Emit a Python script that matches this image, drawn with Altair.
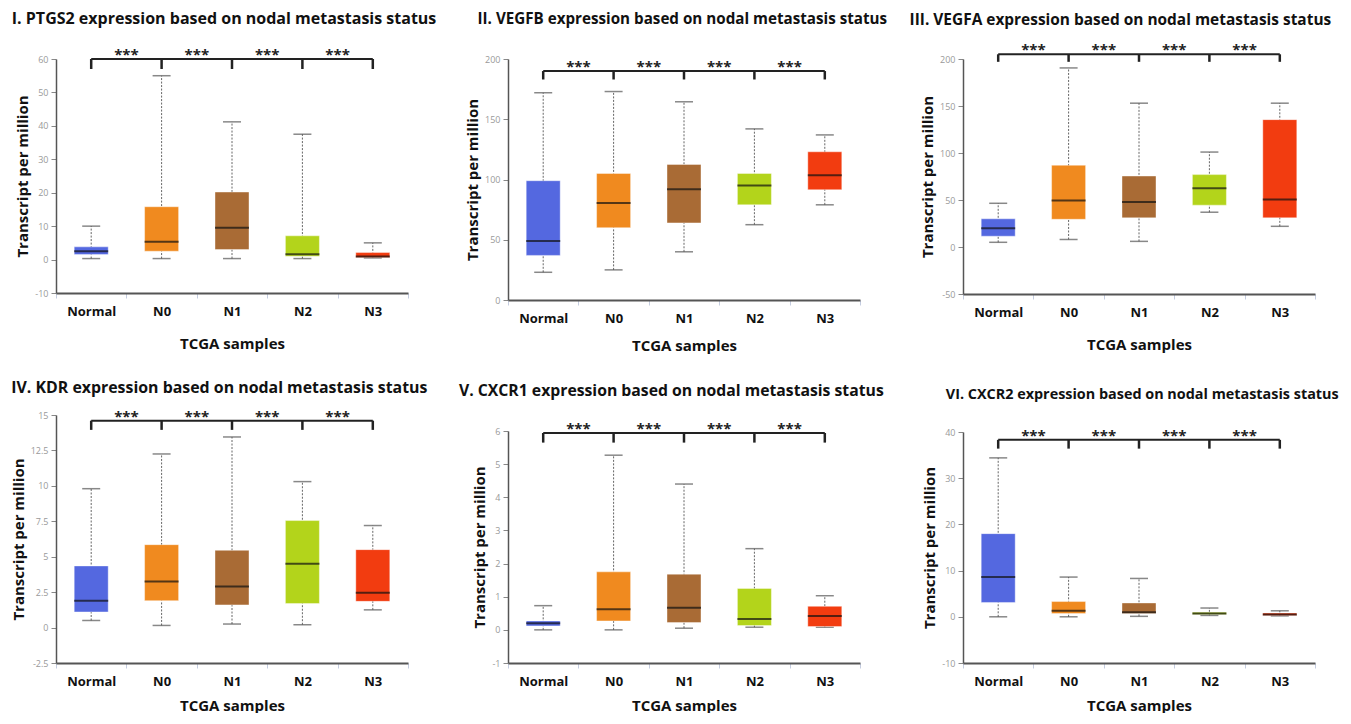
import altair as alt
import pandas as pd

groups = ["Normal", "N0", "N1", "N2", "N3"]
box_colors = ["#5468e0", "#f08a1f", "#a96b35", "#b3d41b", "#f23c10"]

titles = [
    "I. PTGS2 expression based on nodal metastasis status",
    "II. VEGFB expression based on nodal metastasis status",
    "III. VEGFA expression based on nodal metastasis status",
    "IV. KDR expression based on nodal metastasis status",
    "V. CXCR1 expression based on nodal metastasis status",
    "VI. CXCR2 expression based on nodal metastasis status",
]

# PTGS2
ptgs2_min = [0.3, 0.3, 0.3, 0.3, 0.5]
ptgs2_q1 = [1.5, 2.5, 3.0, 1.0, 0.6]
ptgs2_med = [2.5, 5.3, 9.5, 1.6, 0.9]
ptgs2_q3 = [3.8, 15.8, 20.2, 7.1, 2.1]
ptgs2_max = [10.0, 55.0, 41.2, 37.5, 5.0]
ptgs2_ticks = [-10, 0, 10, 20, 30, 40, 50, 60]

# VEGFB
vegfb_min = [23, 25, 40, 62.5, 79]
vegfb_q1 = [37, 60, 64, 79, 91.5]
vegfb_med = [49, 80.5, 92, 95, 103.5]
vegfb_q3 = [99, 105, 112.5, 105, 123]
vegfb_max = [172, 173, 164.5, 142, 137]
vegfb_ticks = [0, 50, 100, 150, 200]

# VEGFA
vegfa_min = [5, 8, 6, 37, 22]
vegfa_q1 = [11.5, 29.5, 31, 44.5, 31]
vegfa_med = [20, 49.5, 48, 62.5, 50.5]
vegfa_q3 = [30, 87, 75.5, 77, 135.5]
vegfa_max = [46.5, 190.5, 153, 101, 153]
vegfa_ticks = [-50, 0, 50, 100, 150, 200]

# KDR
kdr_min = [0.5, 0.15, 0.25, 0.2, 1.25]
kdr_q1 = [1.1, 1.9, 1.6, 1.7, 1.85]
kdr_med = [1.9, 3.25, 2.9, 4.5, 2.45]
kdr_q3 = [4.35, 5.85, 5.45, 7.55, 5.5]
kdr_max = [9.8, 12.25, 13.45, 10.3, 7.2]
kdr_ticks = [-2.5, 0, 2.5, 5, 7.5, 10, 12.5, 15]

# CXCR1
cxcr1_min = [0.0, 0.0, 0.05, 0.08, 0.08]
cxcr1_q1 = [0.12, 0.27, 0.22, 0.13, 0.1]
cxcr1_med = [0.2, 0.62, 0.67, 0.33, 0.42]
cxcr1_q3 = [0.27, 1.75, 1.68, 1.25, 0.71]
cxcr1_max = [0.73, 5.27, 4.4, 2.45, 1.03]
cxcr1_ticks = [-1, 0, 1, 2, 3, 4, 5, 6]

# CXCR2
cxcr2_min = [0.0, 0.0, 0.1, 0.3, 0.2]
cxcr2_q1 = [3.1, 0.7, 0.7, 0.5, 0.3]
cxcr2_med = [8.6, 1.3, 1.0, 0.7, 0.5]
cxcr2_q3 = [18.0, 3.3, 3.0, 1.0, 0.8]
cxcr2_max = [34.4, 8.6, 8.3, 1.9, 1.3]
cxcr2_ticks = [-10, 0, 10, 20, 30, 40]

# significance bracket level (top) and arm end, in data units
bracket_top = [60, 190, 205, 14.6, 5.94, 38.3]
bracket_end = [57, 183, 197, 13.95, 5.65, 36.4]
sig_label = "***"

PANEL_W = 352
FONT = "Open Sans"


def panel(title, mins, q1s, meds, q3s, maxs, ticks, btop, bend, height,
          title_size=16, title_dx=0, title_offset=20, xtitle_y=52):
    df = pd.DataFrame({
        "group": groups, "lo": mins, "q1": q1s, "med": meds, "q3": q3s, "hi": maxs,
        "top": [btop] * 5, "end": [bend] * 5,
    })
    stars = pd.DataFrame({"group": groups[:-1], "label": [sig_label] * 4, "top": [btop] * 4})

    xscale = alt.Scale(domain=groups, paddingInner=0, paddingOuter=0)
    xaxis = alt.Axis(
        title="TCGA samples", labelAngle=0, labelFontSize=13, labelFontWeight="bold",
        labelColor="#111", labelPadding=7, titleFontSize=15, titleFontWeight="bold",
        titleColor="#111", titleY=xtitle_y, titleBaseline="alphabetic",
        domainColor="#555", domainWidth=2,
        tickColor="#c5cde0", tickBand="extent", tickSize=5, tickWidth=1,
    )
    x = alt.X("group:N", sort=groups, scale=xscale, axis=xaxis)
    yscale = alt.Scale(domain=[ticks[0], ticks[-1]], nice=False, zero=False)
    yaxis = alt.Axis(
        title="Transcript per million", values=ticks, labelExpr="'' + datum.value", grid=False,
        labelFontSize=9, labelColor="#999", labelPadding=3, tickColor="#888", tickSize=5,
        domainColor="#555", domainWidth=1.5, titleFontSize=15, titleFontWeight="bold",
        titleColor="#111", titlePadding=4,
    )

    base = alt.Chart(df)
    whisker = base.mark_rule(color="#666", strokeWidth=1, strokeDash=[2, 1.5]).encode(
        x=x, y=alt.Y("lo:Q", scale=yscale, axis=yaxis), y2="hi:Q")
    cap_lo = base.mark_tick(color="#555", size=18, thickness=1.5).encode(
        x=x, y=alt.Y("lo:Q", scale=yscale, axis=yaxis))
    cap_hi = base.mark_tick(color="#555", size=18, thickness=1.5).encode(
        x=x, y=alt.Y("hi:Q", scale=yscale, axis=yaxis))
    box = base.mark_bar(size=34, stroke="#ffffff", strokeOpacity=0.5, strokeWidth=0.8).encode(
        x=x, y=alt.Y("q1:Q", scale=yscale, axis=yaxis), y2="q3:Q",
        color=alt.Color("group:N", scale=alt.Scale(domain=groups, range=box_colors), legend=None))
    median = base.mark_tick(color="#111", size=34, thickness=2).encode(
        x=x, y=alt.Y("med:Q", scale=yscale, axis=yaxis))
    bar_line = base.mark_line(color="#222", strokeWidth=2).encode(
        x=x, y=alt.Y("top:Q", scale=yscale, axis=yaxis))
    arms = base.mark_rule(color="#222", strokeWidth=2.5).encode(
        x=x, y=alt.Y("top:Q", scale=yscale, axis=yaxis), y2="end:Q")
    star_text = alt.Chart(stars).mark_text(
        fontSize=15, fontWeight="bold", color="#222", dx=PANEL_W / 10, dy=1,
        baseline="alphabetic", align="center").encode(
        x=x, y=alt.Y("top:Q", scale=yscale, axis=yaxis), text="label:N")

    return alt.layer(whisker, cap_lo, cap_hi, box, median, bar_line, arms, star_text).properties(
        width=PANEL_W, height=height,
        title=alt.TitleParams(text=title, anchor="start", frame="bounds", fontSize=title_size,
                              fontWeight="bold", color="#111", offset=title_offset, dx=title_dx),
    )


p1 = panel(titles[0], ptgs2_min, ptgs2_q1, ptgs2_med, ptgs2_q3, ptgs2_max, ptgs2_ticks,
           bracket_top[0], bracket_end[0], 234, 16, -4, 21, 55)
p2 = panel(titles[1], vegfb_min, vegfb_q1, vegfb_med, vegfb_q3, vegfb_max, vegfb_ticks,
           bracket_top[1], bracket_end[1], 241, 15.2, 12, 28, 50)
p3 = panel(titles[2], vegfa_min, vegfa_q1, vegfa_med, vegfa_q3, vegfa_max, vegfa_ticks,
           bracket_top[2], bracket_end[2], 235, 15.45, -11, 15, 55)
p4 = panel(titles[3], kdr_min, kdr_q1, kdr_med, kdr_q3, kdr_max, kdr_ticks,
           bracket_top[3], bracket_end[3], 248, 15.9, 0, 14, 47)
p5 = panel(titles[4], cxcr1_min, cxcr1_q1, cxcr1_med, cxcr1_q3, cxcr1_max, cxcr1_ticks,
           bracket_top[4], bracket_end[4], 232, 15.75, -14, 22, 47)
p6 = panel(titles[5], cxcr2_min, cxcr2_q1, cxcr2_med, cxcr2_q3, cxcr2_max, cxcr2_ticks,
           bracket_top[5], bracket_end[5], 231, 14.4, 23, 26, 47)

col1 = alt.vconcat(p1, p4, spacing=122, bounds="flush")
col2 = alt.vconcat(p2, p5, spacing=131, bounds="flush")
col3 = alt.vconcat(p3, p6, spacing=138, bounds="flush")

chart = alt.hconcat(col1, col2, col3, spacing=21).properties(
    padding={"left": 3, "top": 3, "right": 0, "bottom": 0}
).configure(font=FONT).configure_view(stroke=None)

chart.save("out.html", embed_options={"renderer": "svg", "actions": False})
